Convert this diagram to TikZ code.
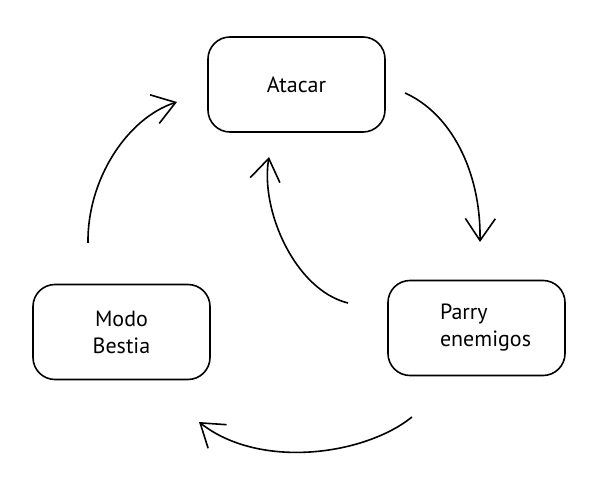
\documentclass[tikz,border=0pt]{standalone}
\usepackage{fontspec}
\setmainfont{PT Sans}
\usetikzlibrary{arrows.meta}
\begin{document}
\begin{tikzpicture}[x=1pt,y=-1pt,
  box/.style={draw=black,line width=1.6pt,rounded corners=22pt,minimum width=177pt,minimum height=95pt,inner sep=0pt,font=\fontsize{22}{27}\selectfont},
  flow/.style={line width=1.6pt,-{Straight Barb[length=22pt,width=30pt,line width=1.6pt]}}]
\useasboundingbox (0,0) rectangle (598,492);
\node[box] (atacar) at (296.5,84.5) {Atacar};
\node[box,align=left,text width=73pt] (parry) at (476.5,328) {Parry\\enemigos};
\node[box,align=center] (modo) at (121.5,332) {Modo\\Bestia};
\coordinate (a1) at (405,93);
\coordinate (a2) at (480,242);
\coordinate (b1) at (88,243);
\coordinate (b2) at (177,102);
\coordinate (c1) at (348,303);
\coordinate (c2) at (269,157);
\coordinate (d1) at (412,417);
\coordinate (d2) at (199,422);
\draw[flow] (a1) .. controls (450,113) and (481,170) .. (a2);
\draw[flow] (b1) .. controls (87,180) and (127,118) .. (b2);
\draw[flow] (c1) .. controls (295,290) and (260,210) .. (c2);
\draw[flow] (d1) .. controls (365,455) and (260,470) .. (d2);
\end{tikzpicture}
\end{document}
